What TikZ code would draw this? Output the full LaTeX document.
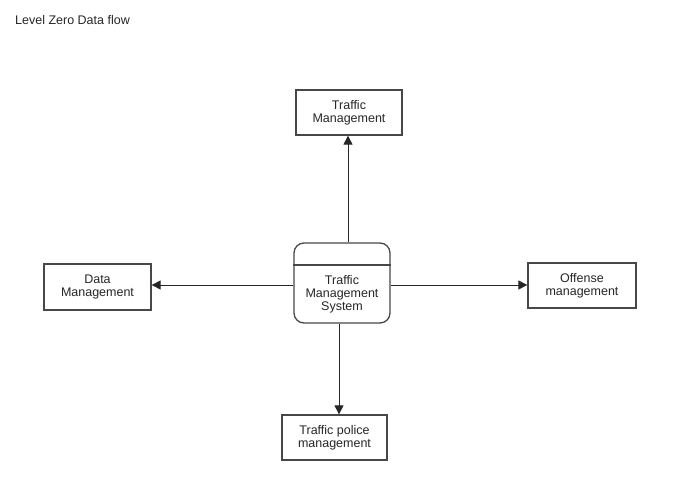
\documentclass[tikz,border=0pt]{standalone}
\usepackage{fontspec}
\setmainfont{Liberation Sans}
\usetikzlibrary{arrows.meta}
\begin{document}
\begin{tikzpicture}[x=1pt,y=1pt,
  box/.style={draw=black!72,line width=1.3pt,fill=white,inner sep=0pt,
    align=center,font=\fontsize{12.5}{13}\selectfont,text=black!85},
  conn/.style={draw=black!85,line width=1pt,-{Triangle[length=9pt,width=9pt]}},
  lbl/.style={font=\fontsize{12.5}{13}\selectfont,text=black!85,inner sep=0pt}]
\useasboundingbox (0,0) rectangle (675,-500);
\node[lbl,anchor=west] (title) at (15,-20) {Level Zero Data flow};
\node[box,minimum width=96pt,minimum height=80pt,rounded corners=10pt] (proc) at (342,-283) {};
\draw[draw=black!72,line width=1.3pt] (proc.west |- 0,-265) coordinate (hl) -- (proc.east |- 0,-265) coordinate (hr);
\node[lbl,align=center] (proctext) at (342,-294) {Traffic\\Management\\System};
\node[box,minimum width=106pt,minimum height=45pt] (tm) at (349,-112.5) {Traffic\\Management};
\node[box,minimum width=107pt,minimum height=46pt] (dm) at (97.5,-287) {Data\\Management};
\node[box,minimum width=108pt,minimum height=45pt] (om) at (582,-285.5) {Offense\\management};
\node[box,minimum width=105pt,minimum height=45pt] (tp) at (334.5,-437.5) {Traffic police\\management};
\draw[conn] ([xshift=6pt]proc.north) -- ([xshift=6pt]proc.north |- tm.south);
\draw[conn] ([yshift=-2pt]proc.west) -- ([yshift=-2pt]proc.west -| dm.east);
\draw[conn] ([yshift=-2pt]proc.east) -- ([yshift=-2pt]proc.east -| om.west);
\draw[conn] ([xshift=-3pt]proc.south) -- ([xshift=-3pt]proc.south |- tp.north);
\end{tikzpicture}
\end{document}
